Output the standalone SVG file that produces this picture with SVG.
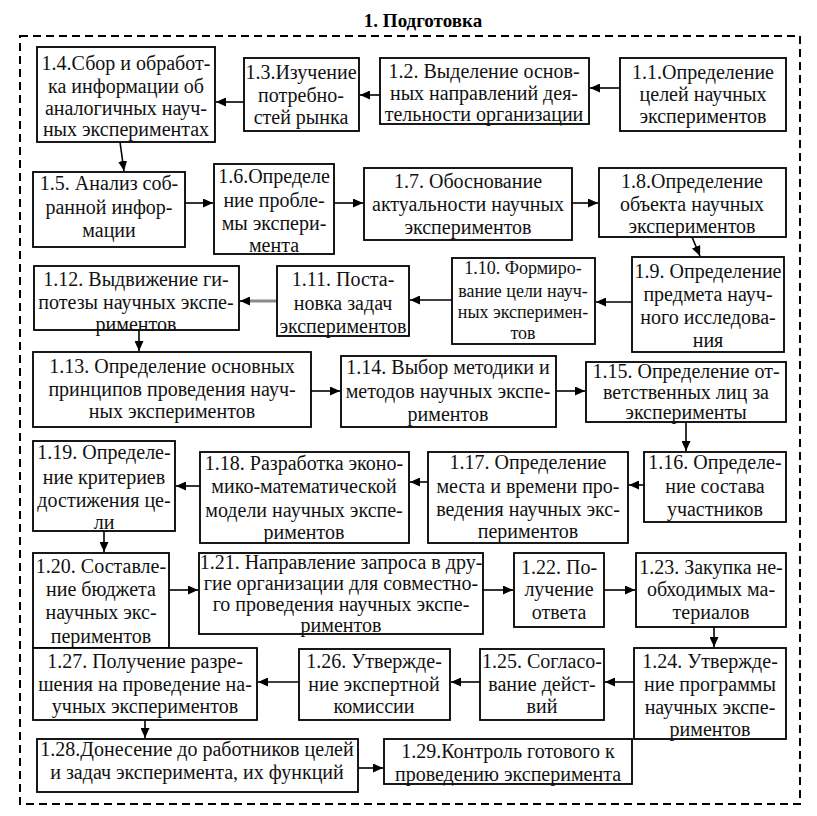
<svg xmlns="http://www.w3.org/2000/svg" width="817" height="816" viewBox="0 0 817 816">
<style>
.b{fill:#fff;stroke:#000;stroke-width:1.8}
.t{font-family:"Liberation Serif","Times New Roman",serif;font-size:20px;fill:#111;text-anchor:middle}
.c{stroke:#000;stroke-width:1.6;fill:none;marker-end:url(#ah)}
.title{font-family:"Liberation Serif","Times New Roman",serif;font-size:19px;font-weight:bold;text-anchor:middle}
</style>
<defs>
<marker id="ah" markerUnits="userSpaceOnUse" markerWidth="11" markerHeight="9" refX="10" refY="4.5" orient="auto">
<path d="M0,0 L10,4.5 L0,9 z" fill="#000"/>
</marker>
</defs>
<rect width="817" height="816" fill="#fff"/>
<text class="title" x="423" y="27">1. Подготовка</text>
<rect x="20" y="36" width="780" height="768" fill="none" stroke="#000" stroke-width="2" stroke-dasharray="8 5"/>

<g id="connectors">
<line class="c" x1="620" y1="88" x2="590" y2="88"/>
<line class="c" x1="380" y1="95" x2="360" y2="95"/>
<line class="c" x1="244" y1="102" x2="216" y2="102"/>
<line class="c" x1="120" y1="142" x2="124" y2="171"/>
<line class="c" x1="185" y1="203" x2="213" y2="203"/>
<line class="c" x1="334" y1="203" x2="363" y2="203"/>
<line class="c" x1="572" y1="203" x2="598" y2="203"/>
<line class="c" x1="692" y1="237" x2="700" y2="256"/>
<line class="c" x1="632" y1="302" x2="596" y2="302"/>
<line class="c" x1="452" y1="300" x2="410" y2="300"/>
<line x1="277" y1="301" x2="248" y2="301" stroke="#8a8a8a" stroke-width="3"/>
<line class="c" x1="250" y1="301" x2="240" y2="301"/>
<line class="c" x1="139" y1="330" x2="139" y2="351"/>
<line class="c" x1="311" y1="391" x2="340" y2="391"/>
<line class="c" x1="556" y1="391" x2="585" y2="391"/>
<line class="c" x1="686" y1="422" x2="686" y2="451"/>
<line class="c" x1="644" y1="485" x2="629" y2="485"/>
<line class="c" x1="428" y1="482" x2="410" y2="482"/>
<line class="c" x1="200" y1="486" x2="176" y2="486"/>
<line class="c" x1="104" y1="531" x2="104" y2="552"/>
<line class="c" x1="169" y1="590" x2="198" y2="590"/>
<line class="c" x1="483" y1="590" x2="513" y2="590"/>
<line class="c" x1="604" y1="590" x2="635" y2="590"/>
<line class="c" x1="714" y1="627" x2="714" y2="647"/>
<line class="c" x1="634" y1="682" x2="605" y2="682"/>
<line class="c" x1="480" y1="682" x2="451" y2="682"/>
<line class="c" x1="299" y1="682" x2="258" y2="682"/>
<line class="c" x1="145" y1="720" x2="145" y2="738"/>
<line class="c" x1="358" y1="768" x2="383" y2="768"/>
</g>

<g id="n1_1"><rect class="b" x="620" y="58" width="166" height="73"/>
<text class="t" x="703" y="79">1.1.Определение</text><text class="t" x="703" y="101">целей научных</text><text class="t" x="703" y="123">экспериментов</text></g>
<g id="n1_2"><rect class="b" x="380" y="58" width="209" height="66"/>
<text class="t" x="484" y="78">1.2. Выделение основ-</text><text class="t" x="484" y="100">ных направлений дея-</text><text class="t" x="484" y="121">тельности организации</text></g>
<g id="n1_3"><rect class="b" x="244" y="58" width="115" height="73"/>
<text class="t" x="301" y="79">1.3.Изучение</text><text class="t" x="301" y="102">потребно-</text><text class="t" x="301" y="124">стей рынка</text></g>
<g id="n1_4"><rect class="b" x="37" y="47" width="178" height="95"/>
<text class="t" x="126" y="70">1.4.Сбор и обработ-</text><text class="t" x="126" y="93">ка информации об</text><text class="t" x="126" y="115">аналогичных науч-</text><text class="t" x="126" y="136">ных экспериментах</text></g>
<g id="n1_5"><rect class="b" x="33" y="172" width="152" height="75"/>
<text class="t" x="109" y="190">1.5. Анализ соб-</text><text class="t" x="109" y="214">ранной инфор-</text><text class="t" x="109" y="237">мации</text></g>
<g id="n1_6"><rect class="b" x="214" y="164" width="120" height="90"/>
<text class="t" x="274" y="183">1.6.Определе</text><text class="t" x="274" y="207">ние пробле-</text><text class="t" x="274" y="230">мы экспери-</text><text class="t" x="274" y="252">мента</text></g>
<g id="n1_7"><rect class="b" x="364" y="168" width="208" height="72"/>
<text class="t" x="468" y="188">1.7. Обоснование</text><text class="t" x="468" y="211">актуальности научных</text><text class="t" x="468" y="234">экспериментов</text></g>
<g id="n1_8"><rect class="b" x="599" y="168" width="187" height="69"/>
<text class="t" x="692" y="188">1.8.Определение</text><text class="t" x="692" y="211">объекта научных</text><text class="t" x="692" y="233">экспериментов</text></g>
<g id="n1_9"><rect class="b" x="632" y="257" width="152" height="95"/>
<text class="t" x="708" y="278">1.9. Определение</text><text class="t" x="708" y="301">предмета науч-</text><text class="t" x="708" y="324">ного исследова-</text><text class="t" x="708" y="347">ния</text></g>
<g id="n1_10"><rect class="b" x="452" y="258" width="143" height="86"/>
<text class="t" x="523" y="274" style="font-size:18px">1.10.  Формиро-</text><text class="t" x="523" y="297" style="font-size:18px">вание цели науч-</text><text class="t" x="523" y="318" style="font-size:18px">ных эксперимен-</text><text class="t" x="523" y="339" style="font-size:18px">тов</text></g>
<g id="n1_11"><rect class="b" x="277" y="266" width="132" height="70"/>
<text class="t" x="343" y="286">1.11. Поста-</text><text class="t" x="343" y="310">новка задач</text><text class="t" x="343" y="333">экспериментов</text></g>
<g id="n1_12"><rect class="b" x="34" y="266" width="205" height="64"/>
<text class="t" x="136" y="286">1.12. Выдвижение ги-</text><text class="t" x="136" y="309">потезы научных экспе-</text><text class="t" x="136" y="331">риментов</text></g>
<g id="n1_13"><rect class="b" x="33" y="352" width="278" height="75"/>
<text class="t" x="172" y="373">1.13. Определение основных</text><text class="t" x="172" y="396">принципов проведения науч-</text><text class="t" x="172" y="418">ных экспериментов</text></g>
<g id="n1_14"><rect class="b" x="341" y="356" width="215" height="71"/>
<text class="t" x="448" y="374">1.14. Выбор методики и</text><text class="t" x="448" y="398">методов научных экспе-</text><text class="t" x="448" y="421">риментов</text></g>
<g id="n1_15"><rect class="b" x="586" y="362" width="200" height="60"/>
<text class="t" x="686" y="378">1.15. Определение от-</text><text class="t" x="686" y="399">ветственных лиц за</text><text class="t" x="686" y="419">эксперименты</text></g>
<g id="n1_16"><rect class="b" x="644" y="452" width="142" height="70"/>
<text class="t" x="715" y="469">1.16. Определе-</text><text class="t" x="715" y="493">ние состава</text><text class="t" x="715" y="516">участников</text></g>
<g id="n1_17"><rect class="b" x="428" y="452" width="200" height="91"/>
<text class="t" x="528" y="469">1.17. Определение</text><text class="t" x="528" y="493">места и времени про-</text><text class="t" x="528" y="516">ведения научных экс-</text><text class="t" x="528" y="538">периментов</text></g>
<g id="n1_18"><rect class="b" x="200" y="452" width="209" height="91"/>
<text class="t" x="304" y="470">1.18. Разработка эконо-</text><text class="t" x="304" y="493">мико-математической</text><text class="t" x="304" y="517">модели научных экспе-</text><text class="t" x="304" y="539">риментов</text></g>
<g id="n1_19"><rect class="b" x="33" y="441" width="142" height="90"/>
<text class="t" x="104" y="459">1.19. Определе-</text><text class="t" x="104" y="484">ние критериев</text><text class="t" x="104" y="507">достижения це-</text><text class="t" x="104" y="529">ли</text></g>
<g id="n1_20"><rect class="b" x="33" y="553" width="136" height="95"/>
<text class="t" x="101" y="573">1.20. Составле-</text><text class="t" x="101" y="596">ние бюджета</text><text class="t" x="101" y="619">научных экс-</text><text class="t" x="101" y="643">периментов</text></g>
<g id="n1_21"><rect class="b" x="199" y="553" width="284" height="81"/>
<text class="t" x="341" y="569">1.21. Направление запроса в дру-</text><text class="t" x="341" y="590">гие организации для совместно-</text><text class="t" x="341" y="611">го проведения научных экспе-</text><text class="t" x="341" y="632">риментов</text></g>
<g id="n1_22"><rect class="b" x="514" y="553" width="90" height="74"/>
<text class="t" x="559" y="574">1.22. По-</text><text class="t" x="559" y="596">лучение</text><text class="t" x="559" y="619">ответа</text></g>
<g id="n1_23"><rect class="b" x="636" y="553" width="150" height="74"/>
<text class="t" x="711" y="574">1.23. Закупка не-</text><text class="t" x="711" y="596">обходимых ма-</text><text class="t" x="711" y="619">териалов</text></g>
<g id="n1_24"><rect class="b" x="634" y="648" width="152" height="91"/>
<text class="t" x="710" y="668">1.24. Утвержде-</text><text class="t" x="710" y="691">ние программы</text><text class="t" x="710" y="714">научных экспе-</text><text class="t" x="710" y="736">риментов</text></g>
<g id="n1_25"><rect class="b" x="480" y="649" width="124" height="71"/>
<text class="t" x="542" y="668">1.25. Согласо-</text><text class="t" x="542" y="691">вание дейст-</text><text class="t" x="542" y="713">вий</text></g>
<g id="n1_26"><rect class="b" x="299" y="649" width="151" height="71"/>
<text class="t" x="374" y="668">1.26. Утвержде-</text><text class="t" x="374" y="691">ние экспертной</text><text class="t" x="374" y="713">комиссии</text></g>
<g id="n1_27"><rect class="b" x="33" y="648" width="224" height="72"/>
<text class="t" x="145" y="668">1.27. Получение разре-</text><text class="t" x="145" y="691">шения на проведение на-</text><text class="t" x="145" y="713">учных экспериментов</text></g>
<g id="n1_28"><rect class="b" x="37" y="739" width="321" height="53"/>
<text class="t" x="197" y="756">1.28.Донесение до работников целей</text><text class="t" x="197" y="779">и задач эксперимента, их функций</text></g>
<g id="n1_29"><rect class="b" x="384" y="739" width="248" height="45"/>
<text class="t" x="508" y="758">1.29.Контроль готового к</text><text class="t" x="508" y="781">проведению эксперимента</text></g>
</svg>
